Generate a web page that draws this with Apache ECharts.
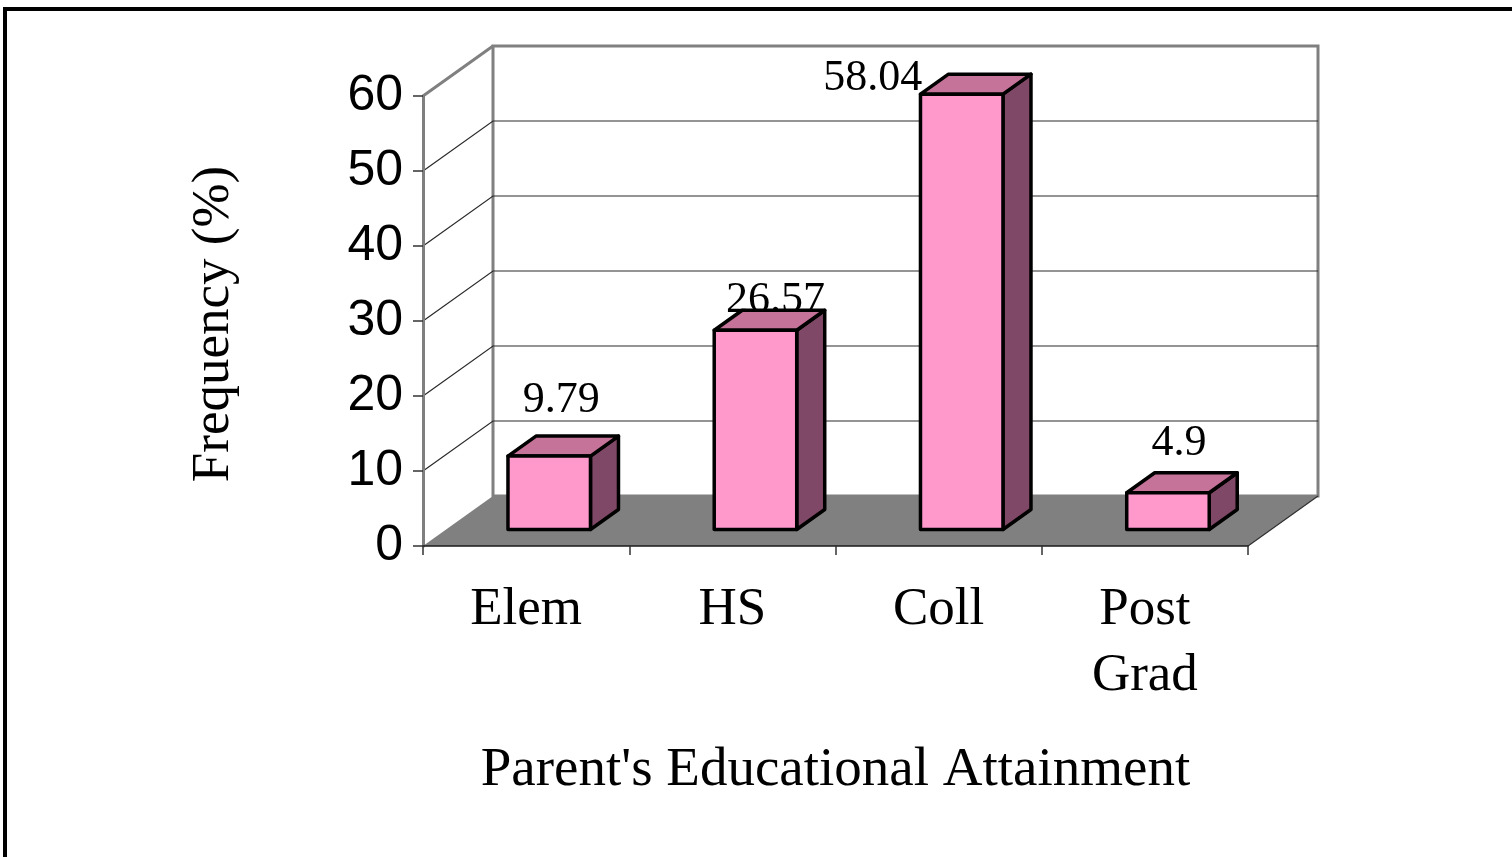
<!DOCTYPE html>
<html>
<head>
<meta charset="utf-8">
<title>Parent's Educational Attainment</title>
<script src="https://cdn.jsdelivr.net/npm/echarts@6/dist/echarts.min.js"></script>
<style>
  html, body { margin: 0; padding: 0; background: #ffffff; }
  #chart { width: 1512px; height: 857px; }
</style>
</head>
<body>
<div id="chart"></div>
<script>
// Data
const categories = ['Elem', 'HS', 'Coll', 'Post\nGrad'];
const frequency = [9.79, 26.57, 58.04, 4.9];
const yTicks = [0, 10, 20, 30, 40, 50, 60];

// Oblique 3D look: depth of the box and placement of bars inside it
const DEPTH_X = 70, DEPTH_Y = -50;
const BAR_FRONT = 0.33, BAR_BACK = 0.73, BAR_WIDTH = 0.40;
// Nudges for the value labels, relative to the centre of each bar's top face
const labelShift = [[-2, -46], [6, -20], [-103, -6], [-3, -39]];

const SERIF = '"Liberation Serif", "Times New Roman", serif';
const SANS = '"Liberation Sans", Arial, sans-serif';

const chart = echarts.init(document.getElementById('chart'), null, { renderer: 'canvas' });

// Walls, floor and gridlines of the 3D box
function renderFrame(params, api) {
  const cs = params.coordSys;
  const x0 = cs.x, x1 = cs.x + cs.width;
  const y0 = api.coord([0, yTicks[0]])[1];
  const yTop = api.coord([0, yTicks[yTicks.length - 1]])[1];
  const children = [];
  // back wall
  children.push({
    type: 'rect',
    shape: { x: x0 + DEPTH_X, y: yTop + DEPTH_Y, width: cs.width, height: y0 - yTop },
    style: { fill: '#ffffff', stroke: '#808080', lineWidth: 3 }
  });
  // left wall top edge
  children.push({
    type: 'line',
    shape: { x1: x0, y1: yTop, x2: x0 + DEPTH_X, y2: yTop + DEPTH_Y },
    style: { stroke: '#808080', lineWidth: 3 }
  });
  // gridlines on back and left walls
  yTicks.slice(1, -1).forEach(function (v) {
    const y = api.coord([0, v])[1];
    children.push({
      type: 'polyline',
      shape: { points: [[x0, y], [x0 + DEPTH_X, y + DEPTH_Y], [x1 + DEPTH_X, y + DEPTH_Y]] },
      style: { stroke: '#2a2a2a', lineWidth: 1.2, fill: null }
    });
  });
  // floor
  children.push({
    type: 'polygon',
    shape: { points: [[x0, y0], [x1, y0], [x1 + DEPTH_X, y0 + DEPTH_Y], [x0 + DEPTH_X, y0 + DEPTH_Y]] },
    style: { fill: '#808080' }
  });
  children.push({
    type: 'line',
    shape: { x1: x1, y1: y0, x2: x1 + DEPTH_X, y2: y0 + DEPTH_Y },
    style: { stroke: '#303030', lineWidth: 1.2 }
  });
  return { type: 'group', children: children };
}

// One 3D bar: front face, top face, side face and its value label
function renderBar(params, api) {
  const idx = api.value(0);
  const val = api.value(1);
  const base = api.coord([idx, 0]);
  const top = api.coord([idx, val]);
  const band = api.size([1, 0])[0];
  const w = band * BAR_WIDTH;
  const fx = DEPTH_X * BAR_FRONT, fy = DEPTH_Y * BAR_FRONT;
  const dx = DEPTH_X * (BAR_BACK - BAR_FRONT), dy = DEPTH_Y * (BAR_BACK - BAR_FRONT);
  const xl = base[0] - w / 2 + fx, xr = xl + w;
  const yb = base[1] + fy, yt = top[1] + fy;
  const edge = { stroke: '#000000', lineWidth: 3.5, lineJoin: 'round' };
  const shift = labelShift[params.dataIndex] || [0, -30];
  return {
    type: 'group',
    children: [
      {
        type: 'polygon',
        shape: { points: [[xr, yt], [xr + dx, yt + dy], [xr + dx, yb + dy], [xr, yb]] },
        style: Object.assign({ fill: '#7f4866' }, edge)
      },
      {
        type: 'polygon',
        shape: { points: [[xl, yt], [xr, yt], [xr + dx, yt + dy], [xl + dx, yt + dy]] },
        style: Object.assign({ fill: '#c57399' }, edge)
      },
      {
        type: 'rect',
        shape: { x: xl, y: yt, width: w, height: yb - yt },
        style: Object.assign({ fill: '#ff99cc' }, edge)
      },
      {
        type: 'text',
        style: {
          text: String(val),
          x: xl + w / 2 + dx / 2 + shift[0],
          y: yt + dy / 2 + shift[1],
          align: 'center',
          verticalAlign: 'middle',
          font: '44px ' + SERIF,
          fill: '#000000'
        }
      }
    ]
  };
}

chart.setOption({
  backgroundColor: '#ffffff',
  animation: false,
  graphic: [{
    type: 'rect',
    shape: { x: 5, y: 9, width: 1600, height: 1000 },
    style: { fill: null, stroke: '#000000', lineWidth: 4 },
    z: 100
  }],
  grid: { left: 423, top: 96, width: 825, height: 450, containLabel: false },
  xAxis: {
    type: 'category',
    data: categories,
    z: 10,
    axisLine: { show: true, lineStyle: { color: '#1a1a1a', width: 1.5 } },
    axisTick: { show: true, length: 9, alignWithLabel: false, lineStyle: { color: '#333333', width: 1.5 } },
    axisLabel: {
      margin: 31,
      fontFamily: SERIF,
      fontSize: 53,
      lineHeight: 66,
      color: '#000000',
      interval: 0
    },
    splitLine: { show: false },
    name: "Parent's Educational Attainment",
    nameLocation: 'middle',
    nameGap: 197,
    nameTextStyle: { fontFamily: SERIF, fontSize: 55, color: '#000000' }
  },
  yAxis: {
    type: 'value',
    min: 0,
    max: 60,
    interval: 10,
    z: 10,
    axisLine: { show: true, lineStyle: { color: '#7f7f7f', width: 3 } },
    axisTick: { show: true, length: 10, lineStyle: { color: '#333333', width: 1.5 } },
    axisLabel: { margin: 20, fontFamily: SANS, fontSize: 50, color: '#000000', padding: [6, 0, 0, 0] },
    splitLine: { show: false },
    name: 'Frequency (%)',
    nameLocation: 'middle',
    nameRotate: 90,
    nameGap: 182,
    nameTextStyle: { fontFamily: SERIF, fontSize: 53, color: '#000000', padding: [0, 6, 0, 0] }
  },
  series: [
    {
      type: 'custom',
      name: 'frame',
      renderItem: renderFrame,
      data: [[0, 0]],
      z: 1,
      silent: true
    },
    {
      type: 'custom',
      name: 'Frequency',
      renderItem: renderBar,
      encode: { x: 0, y: 1 },
      data: frequency.map(function (v, i) { return [i, v]; }),
      z: 2
    }
  ]
});
</script>
</body>
</html>
